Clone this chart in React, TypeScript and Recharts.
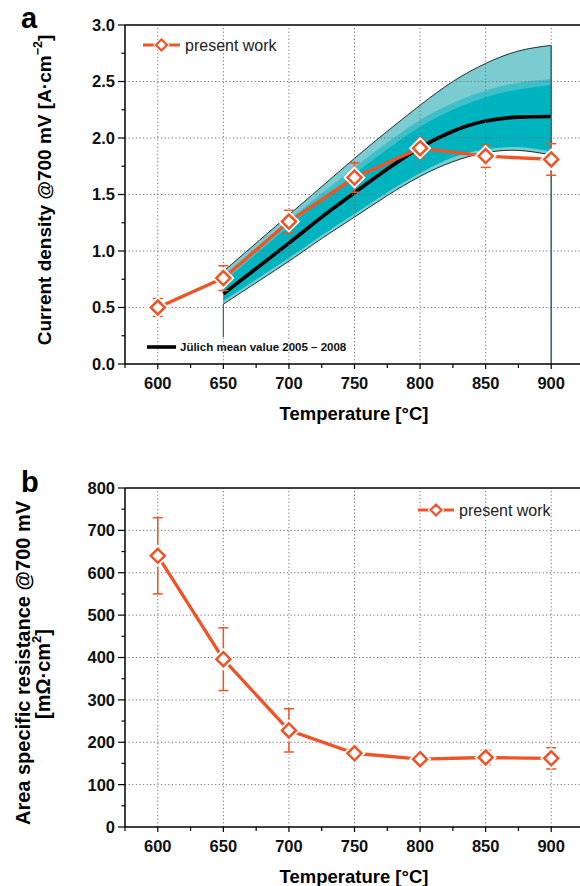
import React from 'react';
import { ComposedChart, Line, Area, XAxis, YAxis, ErrorBar, ReferenceLine } from 'recharts';

// ---------- data ----------
const TEMPS_PW = [600, 650, 700, 750, 800, 850, 900];
const CD_PW = [0.5, 0.76, 1.26, 1.65, 1.91, 1.84, 1.81];
const CD_PW_ERR = [0.08, 0.11, 0.1, 0.13, 0.085, 0.1, 0.14];

const TEMPS_BAND = [650, 700, 725, 750, 775, 800, 825, 850, 875, 900];
const JUL_MEAN = [0.62, 1.07, 1.3, 1.515, 1.725, 1.915, 2.06, 2.15, 2.185, 2.19];
const JUL_UPPER = [0.82, 1.32, 1.57, 1.82, 2.06, 2.29, 2.5, 2.66, 2.77, 2.82];
const JUL_LOWER = [0.53, 0.91, 1.11, 1.3, 1.49, 1.66, 1.79, 1.87, 1.89, 1.85];
const JUL_MID_HI = [0.76, 1.27, 1.51, 1.74, 1.96, 2.16, 2.31, 2.42, 2.49, 2.52];
const JUL_INNER_HI = [0.72, 1.22, 1.45, 1.68, 1.9, 2.1, 2.25, 2.36, 2.43, 2.47];
const JUL_INNER_LO = [0.56, 0.94, 1.14, 1.33, 1.52, 1.69, 1.83, 1.9, 1.92, 1.88];
const JUL_START_DROP = 0.24;

const ASR_PW = [640, 396, 228, 174, 160, 164, 162];
const ASR_ERR = [90, 74, 51, 8, 9, 17, 25];

const X_MAJOR = [600, 650, 700, 750, 800, 850, 900];
const X_TICKS = [575, 600, 625, 650, 675, 700, 725, 750, 775, 800, 825, 850, 875, 900, 925];
const CD_MAJOR = [0, 0.5, 1.0, 1.5, 2.0, 2.5, 3.0];
const CD_TICKS = [0, 0.25, 0.5, 0.75, 1.0, 1.25, 1.5, 1.75, 2.0, 2.25, 2.5, 2.75, 3.0];
const ASR_MAJOR = [0, 100, 200, 300, 400, 500, 600, 700, 800];
const ASR_TICKS = [0, 50, 100, 150, 200, 250, 300, 350, 400, 450, 500, 550, 600, 650, 700, 750, 800];

// ---------- tables ----------
const allTemps = Array.from(new Set([...TEMPS_PW, ...TEMPS_BAND])).sort((a, b) => a - b);
const topData = allTemps.map((t) => {
  const i = TEMPS_PW.indexOf(t);
  const j = TEMPS_BAND.indexOf(t);
  return {
    t,
    pw: i >= 0 ? CD_PW[i] : null,
    pwErr: i >= 0 ? CD_PW_ERR[i] : null,
    mean: j >= 0 ? JUL_MEAN[j] : null,
    outer: j >= 0 ? [JUL_LOWER[j], JUL_UPPER[j]] : null,
    mid: j >= 0 ? [JUL_INNER_LO[j], JUL_MID_HI[j]] : null,
    inner: j >= 0 ? [JUL_INNER_LO[j], JUL_INNER_HI[j]] : null,
  };
});
const bottomData = TEMPS_PW.map((t, i) => ({ t, asr: ASR_PW[i], asrErr: ASR_ERR[i] }));

// ---------- style ----------
const ORANGE = '#ef5428';
const FONT = '"Liberation Sans", Arial, Helvetica, sans-serif';
const LIGHT = '#7accd1';
const MID = '#3fc0c8';
const DARK = '#00b4bf';
const GRID = '#6f6f6f';
const X_TS = 5;
const X_TM = 8;
const Y_TS = 7;
const Y_TM = 3;

const makeXTick = (majors: number[]) => (props: any) => {
  const { x, y, payload } = props;
  const v = payload.value;
  const major = majors.includes(v);
  const axisY = y - X_TS - X_TM;
  return (
    <g>
      <line x1={x} x2={x} y1={axisY} y2={axisY + (major ? 5 : 4)} stroke="#000" strokeWidth={1.2} />
      {major && (
        <text x={x} y={y} dy="0.71em" textAnchor="middle" fontFamily={FONT} fontWeight="bold" fontSize={16.5} fill="#111">
          {v}
        </text>
      )}
    </g>
  );
};

const makeYTick = (majors: number[], fmt: (v: number) => string) => (props: any) => {
  const { x, y, payload } = props;
  const v = payload.value;
  const major = majors.includes(v);
  const axisX = x + Y_TS + Y_TM;
  return (
    <g>
      <line x1={axisX - (major ? 7 : 3.5)} x2={axisX} y1={y} y2={y} stroke="#000" strokeWidth={1.2} />
      {major && (
        <text x={x} y={y} dy="0.36em" textAnchor="end" fontFamily={FONT} fontWeight="bold" fontSize={16.5} fill="#111">
          {fmt(v)}
        </text>
      )}
    </g>
  );
};

const diamondPath = (cx: number, cy: number, r: number) =>
  `M${cx},${cy - r}L${cx + r},${cy}L${cx},${cy + r}L${cx - r},${cy}Z`;

const DiamondDot = (props: any) => {
  const { cx, cy, value } = props;
  if (cx == null || cy == null || value == null) return null;
  const d = diamondPath(cx, cy, 7);
  return (
    <g>
      <path d={d} fill="#fff" stroke="#fff" strokeWidth={6} />
      <path d={d} fill="#fff" stroke={ORANGE} strokeWidth={2.5} />
    </g>
  );
};

const LegendPW = ({ x1, x2, y }: { x1: number; x2: number; y: number }) => {
  const cx = (x1 + x2) / 2;
  return (
    <g>
      <line x1={x1} x2={x2} y1={y} y2={y} stroke={ORANGE} strokeWidth={3.2} />
      <path d={diamondPath(cx, y, 5.5)} fill="#fff" stroke="#fff" strokeWidth={4} />
      <path d={diamondPath(cx, y, 5.5)} fill="#fff" stroke={ORANGE} strokeWidth={2.2} />
      <text x={x2 + 5} y={y} dy="0.36em" fontFamily={FONT} fontSize={16} fill="#222">
        present work
      </text>
    </g>
  );
};

const xTick = makeXTick(X_MAJOR);
const cdTick = makeYTick(CD_MAJOR, (v) => v.toFixed(1));
const asrTick = makeYTick(ASR_MAJOR, (v) => String(v));

export default function App() {
  return (
    <div style={{ position: 'absolute', left: 0, top: 0, width: 580, height: 886, overflow: 'hidden', background: '#fff' }}>
      <div style={{ position: 'absolute', left: 0, top: 0 }}>
        <ComposedChart width={600} height={430} data={topData} margin={{ top: 25, right: 16, left: 65, bottom: 16 }}>
          <XAxis
            dataKey="t"
            type="number"
            domain={[575, 925]}
            ticks={X_TICKS}
            interval={0}
            tick={xTick}
            tickLine={false}
            tickSize={X_TS}
            tickMargin={X_TM}
            height={50}
            axisLine={{ stroke: '#000', strokeWidth: 1.5 }}
            allowDataOverflow
          />
          <YAxis
            type="number"
            domain={[0, 3]}
            ticks={CD_TICKS}
            interval={0}
            tick={cdTick}
            tickLine={false}
            tickSize={Y_TS}
            tickMargin={Y_TM}
            width={60}
            axisLine={{ stroke: '#000', strokeWidth: 1.5 }}
            allowDataOverflow
          />
          <Area dataKey="outer" type="natural" fill={LIGHT} fillOpacity={1} stroke="#000" strokeWidth={0.8} isAnimationActive={false} connectNulls dot={false} activeDot={false} />
          <Area dataKey="mid" type="natural" fill={MID} fillOpacity={1} stroke="none" isAnimationActive={false} connectNulls dot={false} activeDot={false} />
          <Area dataKey="inner" type="natural" fill={DARK} fillOpacity={1} stroke="none" isAnimationActive={false} connectNulls dot={false} activeDot={false} />
          <Line dataKey="mean" type="natural" stroke="#000" strokeWidth={3.6} dot={false} activeDot={false} connectNulls isAnimationActive={false} />
          <ReferenceLine segment={[{ x: TEMPS_BAND[0], y: JUL_START_DROP }, { x: TEMPS_BAND[0], y: JUL_LOWER[0] }]} stroke="#3d5f63" strokeWidth={1.2} />
          <ReferenceLine segment={[{ x: TEMPS_BAND[TEMPS_BAND.length - 1], y: 0 }, { x: TEMPS_BAND[TEMPS_BAND.length - 1], y: JUL_UPPER[JUL_UPPER.length - 1] }]} stroke="#2d6e73" strokeWidth={1.6} />
          {X_MAJOR.map((v) => (
            <ReferenceLine key={'vx' + v} x={v} stroke={GRID} strokeDasharray="1.2 2.4" strokeWidth={1} />
          ))}
          {CD_MAJOR.slice(1, -1).map((v) => (
            <ReferenceLine key={'hy' + v} y={v} stroke={GRID} strokeDasharray="1.2 2.4" strokeWidth={1} />
          ))}
          <ReferenceLine y={3} stroke="#000" strokeWidth={1.5} />
          <Line dataKey="pw" type="linear" stroke={ORANGE} strokeWidth={3.3} connectNulls dot={<DiamondDot />} activeDot={false} isAnimationActive={false}>
            <ErrorBar dataKey="pwErr" direction="y" width={5} stroke={ORANGE} strokeWidth={1.5} />
          </Line>
        </ComposedChart>
      </div>

      <div style={{ position: 'absolute', left: 0, top: 440 }}>
        <ComposedChart width={600} height={446} data={bottomData} margin={{ top: 48, right: 16, left: 65, bottom: 9 }}>
          <XAxis
            dataKey="t"
            type="number"
            domain={[575, 925]}
            ticks={X_TICKS}
            interval={0}
            tick={xTick}
            tickLine={false}
            tickSize={X_TS}
            tickMargin={X_TM}
            height={50}
            axisLine={{ stroke: '#000', strokeWidth: 1.5 }}
            allowDataOverflow
          />
          <YAxis
            type="number"
            domain={[0, 800]}
            ticks={ASR_TICKS}
            interval={0}
            tick={asrTick}
            tickLine={false}
            tickSize={Y_TS}
            tickMargin={Y_TM}
            width={60}
            axisLine={{ stroke: '#000', strokeWidth: 1.5 }}
            allowDataOverflow
          />
          {X_MAJOR.map((v) => (
            <ReferenceLine key={'bvx' + v} x={v} stroke={GRID} strokeDasharray="1.2 2.4" strokeWidth={1} />
          ))}
          {ASR_MAJOR.slice(1, -1).map((v) => (
            <ReferenceLine key={'bhy' + v} y={v} stroke={GRID} strokeDasharray="1.2 2.4" strokeWidth={1} />
          ))}
          <ReferenceLine y={800} stroke="#000" strokeWidth={1.5} />
          <Line dataKey="asr" type="linear" stroke={ORANGE} strokeWidth={3.3} dot={<DiamondDot />} activeDot={false} isAnimationActive={false}>
            <ErrorBar dataKey="asrErr" direction="y" width={5} stroke={ORANGE} strokeWidth={1.5} />
          </Line>
        </ComposedChart>
      </div>

      <svg width={580} height={886} style={{ position: 'absolute', left: 0, top: 0, pointerEvents: 'none' }}>
        <text x={21} y={28} fontFamily={FONT} fontWeight="bold" fontSize={29} fill="#000">a</text>
        <text x={21} y={492} fontFamily={FONT} fontWeight="bold" fontSize={29} fill="#000">b</text>

        <LegendPW x1={143} x2={180} y={45} />
        <line x1={147} x2={176} y1={347} y2={347} stroke="#000" strokeWidth={3.6} />
        <text x={180} y={347} dy="0.36em" fontFamily={FONT} fontWeight="bold" fontSize={11.5} fill="#111">
          Jülich mean value 2005 – 2008
        </text>

        <LegendPW x1={418} x2={454} y={510} />

        <text x={354} y={420} textAnchor="middle" fontFamily={FONT} fontWeight="bold" fontSize={18.5} fill="#000">
          Temperature [°C]
        </text>
        <text x={354} y={883} textAnchor="middle" fontFamily={FONT} fontWeight="bold" fontSize={18.5} fill="#000">
          Temperature [°C]
        </text>

        <text transform="translate(51,190) rotate(-90)" textAnchor="middle" fontFamily={FONT} fontWeight="bold" fontSize={19} fill="#000">
          Current density @700 mV [A·cm<tspan dy={-9} fontSize={12.5}>−2</tspan><tspan dy={9}>]</tspan>
        </text>

        <text transform="translate(30,663) rotate(-90)" textAnchor="middle" fontFamily={FONT} fontWeight="bold" fontSize={20} fill="#000">
          Area specific resistance @700 mV
        </text>
        <text transform="translate(50,674) rotate(-90)" textAnchor="middle" fontFamily={FONT} fontWeight="bold" fontSize={20} fill="#000">
          [mΩ·cm<tspan dy={-9} fontSize={13}>2</tspan><tspan dy={9}>]</tspan>
        </text>
      </svg>
    </div>
  );
}
